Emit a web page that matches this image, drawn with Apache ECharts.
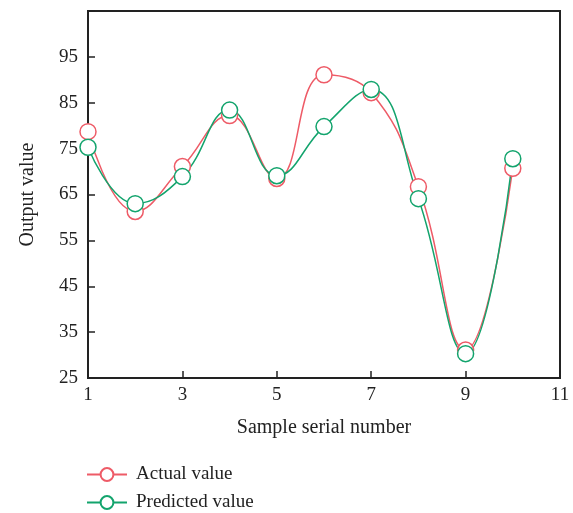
<!DOCTYPE html>
<html>
<head>
<meta charset="utf-8">
<script src="https://cdn.jsdelivr.net/npm/echarts@6/dist/echarts.min.js"></script>
<style>
  html, body { margin: 0; padding: 0; background: #fff; }
  #main { width: 573px; height: 513px; }
</style>
</head>
<body>
<div id="main"></div>
<script>
// 样本序号
const samples = [1, 2, 3, 4, 5, 6, 7, 8, 9, 10]
// 实际值
const actualValues = [78.7, 61.3, 71.1, 82.2, 68.5, 91.1, 87.2, 66.7, 31.1, 70.7]
// 预测值
const predictedValues = [75.3, 63.0, 68.9, 83.4, 69.1, 79.8, 87.9, 64.1, 30.3, 72.8]
const yTicks = [25, 35, 45, 55, 65, 75, 85, 95]

const font = 'Liberation Serif'
const red = '#ee5b67'
const green = '#13a46d'

const toPairs = (vals) => samples.map((s, i) => [s, vals[i]])

const myChart = echarts.init(document.getElementById('main'))
const option = {
  animation: false,
  grid: {
    left: 88,
    top: 11,
    right: 13,
    bottom: 135,
    show: true,
    borderColor: '#222',
    borderWidth: 2
  },
  legend: {
    orient: 'vertical',
    left: 86,
    top: 465,
    height: 48,
    padding: 0,
    itemWidth: 40,
    itemHeight: 16,
    itemGap: 9,
    textStyle: { fontFamily: font, fontSize: 19, color: '#222', padding: [0, 0, 0, 4] },
    data: ['Actual value', 'Predicted value']
  },
  xAxis: {
    type: 'value',
    min: 1,
    max: 11,
    interval: 2,
    name: 'Sample serial number',
    nameLocation: 'middle',
    nameGap: 40,
    nameTextStyle: { fontFamily: font, fontSize: 20, color: '#222' },
    axisLine: { lineStyle: { color: '#222', width: 2 } },
    axisTick: { inside: true, length: 7, lineStyle: { color: '#222', width: 1.5 } },
    axisLabel: { fontFamily: font, fontSize: 19, color: '#222', margin: 8 },
    splitLine: { show: false }
  },
  yAxis: {
    type: 'value',
    min: 25,
    max: 105,
    interval: 10,
    name: 'Output value',
    nameLocation: 'middle',
    nameGap: 50,
    nameTextStyle: { fontFamily: font, fontSize: 20, color: '#222' },
    axisLine: { show: true, lineStyle: { color: '#222', width: 2 } },
    axisTick: { inside: true, length: 7, lineStyle: { color: '#222', width: 1.5 } },
    axisLabel: {
      fontFamily: font,
      fontSize: 19,
      color: '#222',
      margin: 10,
      formatter: (v) => (yTicks.includes(v) ? String(v) : '')
    },
    splitLine: { show: false }
  },
  series: [
    {
      name: 'Actual value',
      type: 'line',
      smooth: 0.45,
      data: toPairs(actualValues),
      symbol: 'circle',
      symbolSize: 16,
      lineStyle: { color: red, width: 1.5 },
      itemStyle: { color: '#fff', borderColor: red, borderWidth: 1.5 }
    },
    {
      name: 'Predicted value',
      type: 'line',
      smooth: 0.45,
      data: toPairs(predictedValues),
      symbol: 'circle',
      symbolSize: 16,
      lineStyle: { color: green, width: 1.5 },
      itemStyle: { color: '#fff', borderColor: green, borderWidth: 1.5 }
    }
  ]
}
myChart.setOption(option)
</script>
</body>
</html>
